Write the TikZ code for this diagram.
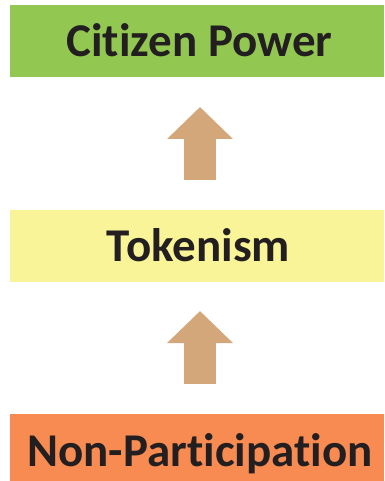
\documentclass[tikz,border=0pt]{standalone}
\usepackage{fontspec}
\setmainfont{Carlito}[Ligatures={NoCommon}]
\usetikzlibrary{arrows.meta}
\definecolor{powergreen}{RGB}{146,200,82}
\definecolor{tokenyellow}{RGB}{250,244,152}
\definecolor{nonorange}{RGB}{247,139,82}
\definecolor{arrowtan}{RGB}{212,167,122}
\definecolor{labelink}{RGB}{35,31,32}
\tikzset{
  levelbox/.style={rectangle, inner sep=0pt, outer sep=0pt, minimum width=374pt},
  label text/.style={anchor=base, inner sep=0pt, text=labelink, font=\bfseries\fontsize{47pt}{47pt}\selectfont},
  uparrow/.style={draw=arrowtan, line width=32pt, line cap=butt,
    -{Triangle[width=64pt,length=32pt,fill=arrowtan]}},
}
\begin{document}
\begin{tikzpicture}[x=1pt,y=-1pt]
  \useasboundingbox (0,0) rectangle (384,481);
  % the three levels of participation
  \node[levelbox, fill=powergreen, minimum height=72pt] (power) at (197,41) {};
  \node[levelbox, fill=tokenyellow, minimum height=72pt] (token) at (197,246) {};
  \node[levelbox, fill=nonorange, minimum height=67pt] (nonpart) at (197,447.5) {};
  \node[label text] (powerlabel) at (199.5,57) {Citizen Power};
  \node[label text] (tokenlabel) at (198.5,261.5) {Tokenism};
  \node[label text] (nonlabel) at (200,466) {Non-Participation};
  % upward block arrows between levels
  \coordinate (a1from) at (200,180);
  \coordinate (a1to) at (200,107);
  \coordinate (a2from) at (200,384);
  \coordinate (a2to) at (200,311);
  \draw[uparrow] (a1from) -- (a1to);
  \draw[uparrow] (a2from) -- (a2to);
\end{tikzpicture}
\end{document}
